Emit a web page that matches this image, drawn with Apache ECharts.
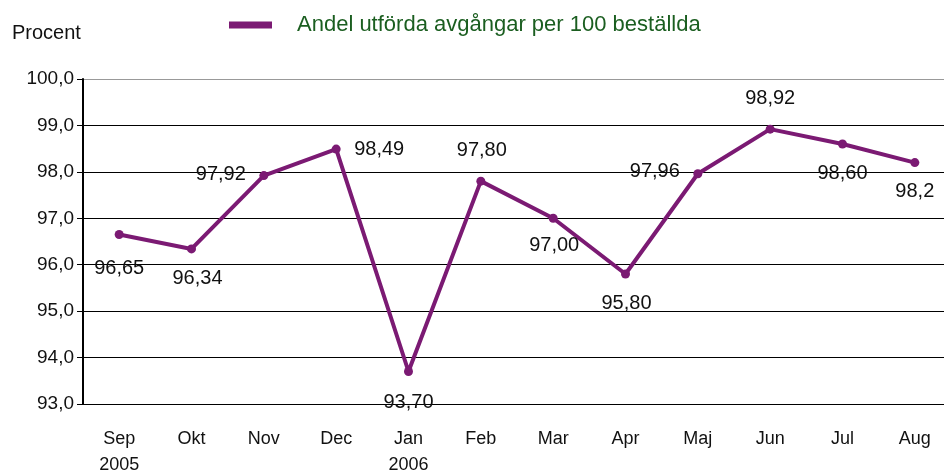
<!DOCTYPE html>
<html lang="sv">
  <head>
    <meta charset="UTF-8" />
    <title>Andel utförda avgångar</title>
    <style>
      body {
        margin: 0;
        background: #fff;
      }
      #main {
        width: 944px;
        height: 473px;
      }
    </style>
  </head>
  <body>
    <div id="main"></div>
    <script src="https://cdn.jsdelivr.net/npm/echarts@6/dist/echarts.min.js"></script>
    <script>
      const months = ["Sep\n2005", "Okt", "Nov", "Dec", "Jan\n2006", "Feb", "Mar", "Apr", "Maj", "Jun", "Jul", "Aug"];
      const values = [96.65, 96.34, 97.92, 98.49, 93.7, 97.8, 97.0, 95.8, 97.96, 98.92, 98.6, 98.2];
      const valueLabels = ["96,65", "96,34", "97,92", "98,49", "93,70", "97,80", "97,00", "95,80", "97,96", "98,92", "98,60", "98,2"];
      const seriesName = "Andel utförda avgångar per 100 beställda";

      // label offset (px) from each point
      const labelOffsets = [
        [0, 34], [6, 30], [-43, -1], [43, 0], [0, 31], [1, -31],
        [1, 27], [1, 29], [-43, -2], [0, -31], [0, 29], [0, 29],
      ];

      const font = "'Liberation Sans', Arial, sans-serif";

      const myChart = echarts.init(document.getElementById("main"));
      const option = {
        animation: false,
        title: {
          text: "Procent",
          left: 7,
          top: 18,
          textStyle: { fontFamily: font, fontSize: 20, fontWeight: "normal", color: "#111" },
        },
        legend: {
          left: 229,
          top: 14,
          padding: 0,
          icon: "rect",
          itemWidth: 43,
          itemHeight: 7,
          textStyle: {
            fontFamily: font,
            fontSize: 22,
            color: "#1b5e20",
            padding: [0, 0, 0, 20],
          },
          data: [seriesName],
        },
        grid: { left: 83, right: -7, top: 79, bottom: 69, outerBoundsMode: "none" },
        xAxis: {
          type: "category",
          data: months,
          boundaryGap: true,
          axisLine: { lineStyle: { color: "#000", width: 1 } },
          axisTick: { length: 5, lineStyle: { color: "#000" } },
          axisLabel: {
            color: "#111",
            fontFamily: font,
            fontSize: 18,
            margin: 22,
            lineHeight: 26,
            interval: 0,
          },
        },
        yAxis: {
          type: "value",
          min: 93,
          max: 100,
          interval: 1,
          axisLine: { show: true, lineStyle: { color: "#000", width: 2 } },
          axisTick: { show: true, length: 6, lineStyle: { color: "#000" } },
          axisLabel: {
            color: "#111",
            fontFamily: font,
            fontSize: 19,
            margin: 9,
            formatter: (v) => v.toFixed(1).replace(".", ","),
          },
          splitLine: {
            lineStyle: {
              color: ["#000", "#000", "#000", "#000", "#000", "#000", "#000", "#999"],
              width: 1,
            },
          },
        },
        series: [
          {
            name: seriesName,
            type: "line",
            data: values.map((v, i) => ({
              value: v,
              label: {
                show: true,
                position: "inside",
                offset: labelOffsets[i],
                formatter: valueLabels[i],
              },
            })),
            color: "#7b1a73",
            lineStyle: { width: 4, color: "#7b1a73" },
            symbol: "circle",
            symbolSize: 9,
            itemStyle: { color: "#7b1a73" },
            label: {
              color: "#111",
              fontFamily: font,
              fontSize: 20,
            },
          },
        ],
      };
      myChart.setOption(option);
    </script>
  </body>
</html>
